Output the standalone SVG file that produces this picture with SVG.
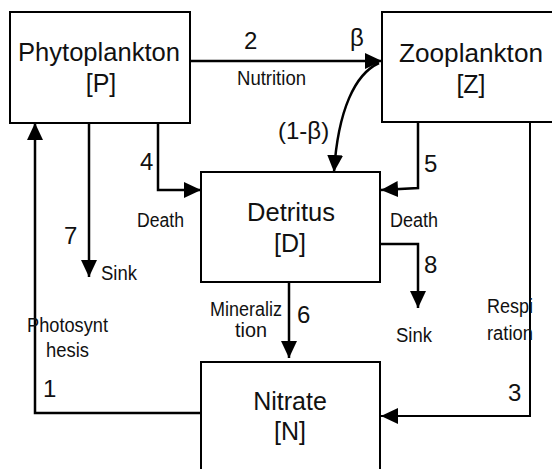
<svg xmlns="http://www.w3.org/2000/svg" width="552" height="469" viewBox="0 0 552 469">
<defs>
<style>
.box{fill:#fff;stroke:#000;stroke-width:2}
.big{font-family:"Liberation Sans",Arial,sans-serif;font-size:25px;fill:#111;text-anchor:middle}
.num{font-family:"Liberation Sans",Arial,sans-serif;font-size:24px;fill:#111}
.lbl{font-family:"Liberation Sans",Arial,sans-serif;font-size:20px;fill:#111}
.c{fill:none;stroke:#000;stroke-width:2.5}
</style>
<marker id="ah" markerUnits="userSpaceOnUse" markerWidth="18" markerHeight="16" refX="17" refY="8" orient="auto">
<path d="M0,0 L17,8 L0,16 Z" fill="#000"/>
</marker>
</defs>
<rect width="552" height="469" fill="#fff"/>
<g id="phytoplankton">
<rect class="box" x="10" y="12" width="180" height="111"/>
<text class="big" x="99" y="61" textLength="162" lengthAdjust="spacingAndGlyphs">Phytoplankton</text>
<text class="big" x="101" y="92">[P]</text>
</g>
<g id="zooplankton">
<rect class="box" x="382" y="12" width="190" height="110"/>
<text class="big" x="471" y="62" textLength="144" lengthAdjust="spacingAndGlyphs">Zooplankton</text>
<text class="big" x="471" y="93">[Z]</text>
</g>
<g id="detritus">
<rect class="box" x="201" y="172" width="179" height="110"/>
<text class="big" x="291" y="221" textLength="88" lengthAdjust="spacingAndGlyphs">Detritus</text>
<text class="big" x="290" y="252">[D]</text>
</g>
<g id="nitrate">
<rect class="box" x="201" y="362" width="179" height="120"/>
<text class="big" x="290" y="410">Nitrate</text>
<text class="big" x="290" y="440">[N]</text>
</g>
<g id="connectors">
<path class="c" d="M190,61 H382" marker-end="url(#ah)"/>
<path class="c" d="M379,63 C355,74 338,110 334,172" marker-end="url(#ah)"/>
<path class="c" d="M158,123 V190 H201" marker-end="url(#ah)"/>
<path class="c" d="M89,123 V277" marker-end="url(#ah)"/>
<path class="c" d="M201,413 H35 V123" marker-end="url(#ah)"/>
<path class="c" d="M418,122 V188 L381,190" marker-end="url(#ah)"/>
<path class="c" d="M380,244 H418 V308" marker-end="url(#ah)"/>
<path class="c" d="M289,282 V358" marker-end="url(#ah)"/>
<path class="c" style="stroke-width:2" d="M530,122 V416 H381" marker-end="url(#ah)"/>
</g>
<g id="labels">
<text class="num" x="244" y="49">2</text>
<text class="num" x="350" y="46">β</text>
<text class="lbl" x="237" y="85" textLength="69" lengthAdjust="spacingAndGlyphs">Nutrition</text>
<text class="num" x="278" y="139">(1-β)</text>
<text class="num" x="140" y="170">4</text>
<text class="lbl" x="137" y="227" textLength="47" lengthAdjust="spacingAndGlyphs">Death</text>
<text class="num" x="424" y="172">5</text>
<text class="lbl" x="390" y="227" textLength="48" lengthAdjust="spacingAndGlyphs">Death</text>
<text class="num" x="64" y="244">7</text>
<text class="lbl" x="101" y="280" textLength="36" lengthAdjust="spacingAndGlyphs">Sink</text>
<text class="num" x="424" y="273">8</text>
<text class="lbl" x="396" y="342" textLength="36" lengthAdjust="spacingAndGlyphs">Sink</text>
<text class="lbl" x="27" y="332" textLength="81" lengthAdjust="spacingAndGlyphs">Photosynt</text>
<text class="lbl" x="46" y="357" textLength="43" lengthAdjust="spacingAndGlyphs">hesis</text>
<text class="num" x="43" y="397">1</text>
<text class="lbl" x="210" y="316" textLength="72" lengthAdjust="spacingAndGlyphs">Mineraliz</text>
<text class="lbl" x="235" y="337" textLength="32" lengthAdjust="spacingAndGlyphs">tion</text>
<text class="num" x="297" y="323">6</text>
<text class="lbl" x="487" y="313" textLength="46" lengthAdjust="spacingAndGlyphs">Respi</text>
<text class="lbl" x="487" y="340" textLength="46" lengthAdjust="spacingAndGlyphs">ration</text>
<text class="num" x="508" y="401">3</text>
</g>
</svg>
